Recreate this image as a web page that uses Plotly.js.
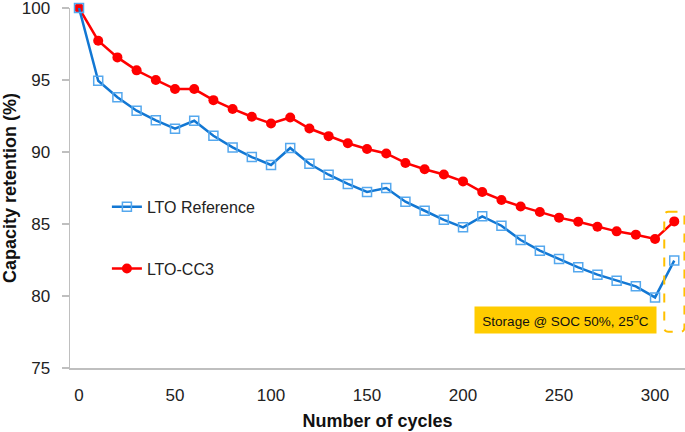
<!DOCTYPE html>
<html>
<head>
<meta charset="utf-8">
<script src="https://cdn.plot.ly/plotly-3.0.1.min.js"></script>
<style>html,body{margin:0;padding:0;background:#fff;}#chart{width:685px;height:432px;}</style>
</head>
<body>
<div id="chart"></div>
<script>
const cycles = [0,10,20,30,40,50,60,70,80,90,100,110,120,130,140,150,160,170,180,190,200,210,220,230,240,250,260,270,280,290,300,310];
const ltoReference = [100,94.95,93.8,92.87,92.2,91.62,92.17,91.13,90.32,89.65,89.1,90.28,89.18,88.42,87.78,87.23,87.5,86.55,85.92,85.29,84.77,85.53,84.88,83.89,83.15,82.57,81.99,81.48,81.06,80.67,79.9,82.46];
const ltoCC3 = [100,97.73,96.57,95.67,95.0,94.37,94.37,93.6,92.99,92.45,91.98,92.4,91.63,91.1,90.61,90.21,89.9,89.24,88.8,88.44,87.96,87.22,86.67,86.22,85.83,85.44,85.16,84.81,84.49,84.26,83.96,85.18];
const seriesNames = ["LTO Reference","LTO-CC3"];
const xTicks = [0,50,100,150,200,250,300];
const yTicks = [75,80,85,90,95,100];
const noteText = "Storage @ SOC 50%, 25<sup>o</sup>C";

const font = "Liberation Sans, Arial, sans-serif";

const traces = [
  {
    x: cycles, y: ltoCC3, name: seriesNames[1], type: "scatter", mode: "lines+markers",
    line: {color: "#ff0000", width: 2.5},
    marker: {symbol: "circle", size: 10, color: "#ff0000"},
    cliponaxis: false, legendgroup: "b", legendrank: 2
  },
  {
    x: cycles, y: ltoReference, name: seriesNames[0], type: "scatter", mode: "lines+markers",
    line: {color: "#1277d3", width: 2.5},
    marker: {symbol: "square-open", size: 9, color: "#55a8ee", line: {width: 1.5, color: "#55a8ee"}},
    cliponaxis: false, legendgroup: "a", legendrank: 1
  }
];

// rounded dashed rectangle in data coordinates
const rx0 = 304.8, rx1 = 315.3, ry0 = 77.52, ry1 = 85.85, dx = 2.2, dy = 0.3;
const roundPath = `M ${rx0+dx},${ry1} L ${rx1-dx},${ry1} Q ${rx1},${ry1} ${rx1},${ry1-dy} L ${rx1},${ry0+dy} Q ${rx1},${ry0} ${rx1-dx},${ry0} L ${rx0+dx},${ry0} Q ${rx0},${ry0} ${rx0},${ry0+dy} L ${rx0},${ry1-dy} Q ${rx0},${ry1} ${rx0+dx},${ry1} Z`;

const layout = {
  width: 685, height: 432,
  margin: {l: 70, r: 0, t: 8, b: 64},
  paper_bgcolor: "#fff", plot_bgcolor: "#fff",
  font: {family: font, size: 16, color: "#222"},
  showlegend: true,
  legend: {
    x: 0.06, y: 0.495, xanchor: "left", yanchor: "top",
    traceorder: "grouped", tracegroupgap: 38,
    font: {family: font, size: 16, color: "#222"},
    bgcolor: "rgba(0,0,0,0)"
  },
  xaxis: {
    range: [-4.69, 315.6], tickvals: xTicks, ticks: "", showgrid: false, zeroline: false,
    showline: true, linecolor: "#bfbfbf", linewidth: 1.5,
    ticklabelstandoff: 11,
    tickfont: {family: font, size: 17, color: "#222"},
    title: {text: "<b>Number of cycles</b>", font: {family: font, size: 18, color: "#111"}, standoff: 10}
  },
  yaxis: {
    range: [75, 100], tickvals: yTicks, ticks: "outside", ticklen: 7, tickcolor: "#bfbfbf", tickwidth: 1.5,
    ticklabeloverflow: "allow", ticklabelstandoff: 8,
    showgrid: false, zeroline: false, showline: true, linecolor: "#bfbfbf", linewidth: 1.5,
    tickfont: {family: font, size: 17, color: "#222"},
    title: {text: "<b>Capacity retention (%)</b>", font: {family: font, size: 18, color: "#111"}, standoff: 8}
  },
  shapes: [
    {type: "path", path: roundPath, xref: "x", yref: "y",
     line: {color: "#ffc000", width: 2, dash: "dash"}, fillcolor: "rgba(0,0,0,0)"}
  ],
  annotations: [
    {x: 253.5, y: 78.35, xref: "x", yref: "y", text: noteText, showarrow: false,
     bgcolor: "#ffcc00", width: 177, height: 22, borderpad: 2,
     font: {family: font, size: 13.5, color: "#111"}}
  ]
};

Plotly.newPlot("chart", traces, layout, {displayModeBar: false, staticPlot: true});
</script>
</body>
</html>
